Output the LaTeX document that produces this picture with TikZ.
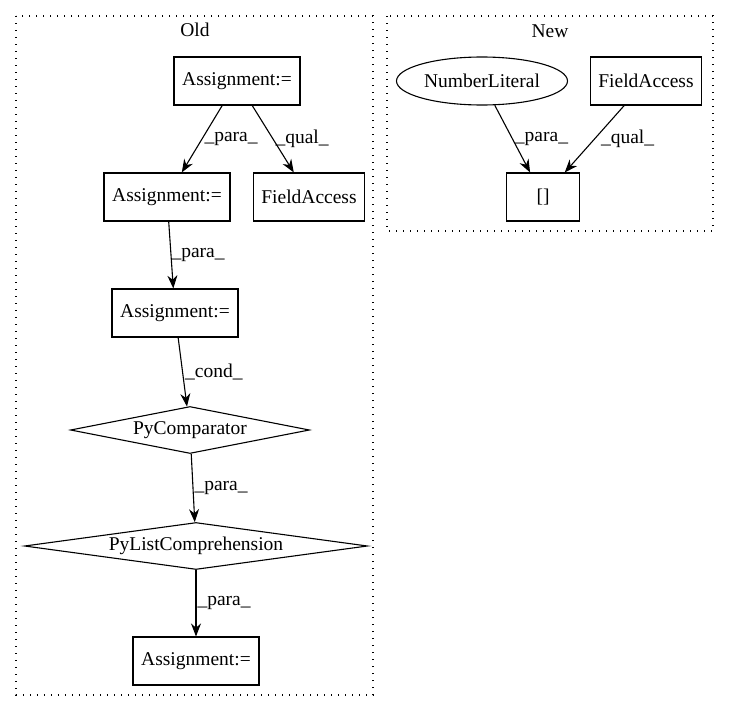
\documentclass[tikz,border=0pt]{standalone}
\usepackage{fontspec}
\setmainfont{Liberation Serif}
\usetikzlibrary{arrows.meta,shapes.geometric}
\begin{document}
\begin{tikzpicture}[x=1pt,y=-1pt,>={Stealth[length=13pt,width=10pt]},
        every node/.style={font=\fontsize{19.5}{22}\selectfont},
        box/.style={draw,rectangle,minimum height=48pt,inner sep=0pt,line width=1.1pt},
        dia/.style={draw,diamond,aspect=5,minimum height=47pt,inner sep=0pt,line width=1.1pt},
        lit/.style={draw,ellipse,minimum width=171pt,minimum height=48pt,inner sep=0pt,line width=1.1pt},
        cluster/.style={line width=1.2pt,dash pattern=on 1.2pt off 5.8pt},
        link/.style={->,line width=1.1pt},
        lbl/.style={right,inner sep=2pt}]
        \useasboundingbox(0,0)rectangle(729,712);
        \draw[cluster](16,16)rectangle(373,695);
        \draw[cluster](387,16)rectangle(713,231);
        \node(oldlbl)at(195,30){Old};
        \node(newlbl)at(550,31){New};
        \node[box,minimum width=126pt](asgA)at(237,81){Assignment:=};
        \node[box,minimum width=126pt](asgB)at(167,197){Assignment:=};
        \node[box,minimum width=111pt](fldOld)at(309,197){FieldAccess};
        \node[box,minimum width=126pt](asgC)at(175,313){Assignment:=};
        \node[dia,minimum width=239pt](pycmp)at(190,430){PyComparator};
        \node[dia,aspect=7,minimum width=343pt](pylist)at(196,546){PyListComprehension};
        \node[box,minimum width=126pt](asgD)at(196,661){Assignment:=};
        \node[lit](numlit)at(482,81){NumberLiteral};
        \node[box,minimum width=111pt](fldNew)at(646,81){FieldAccess};
        \node[box,minimum width=73pt](subscr)at(543,197){[]};
        \draw[link](asgA)--node[lbl]{\_para\_}(asgB);
        \draw[link](asgA)--node[lbl]{\_qual\_}(fldOld);
        \draw[link](asgB)--node[lbl,inner sep=0pt]{\_para\_}(asgC);
        \draw[link](asgC)--node[lbl]{\_cond\_}(pycmp);
        \draw[link](pycmp)--node[lbl,inner sep=1pt]{\_para\_}(pylist);
        \draw[link](pylist)--node[lbl,inner sep=1pt]{\_para\_}(asgD);
        \draw[link](numlit)--node[lbl]{\_para\_}(subscr);
        \draw[link](fldNew)--node[lbl,xshift=4pt]{\_qual\_}(subscr);
    \end{tikzpicture}
\end{document}
